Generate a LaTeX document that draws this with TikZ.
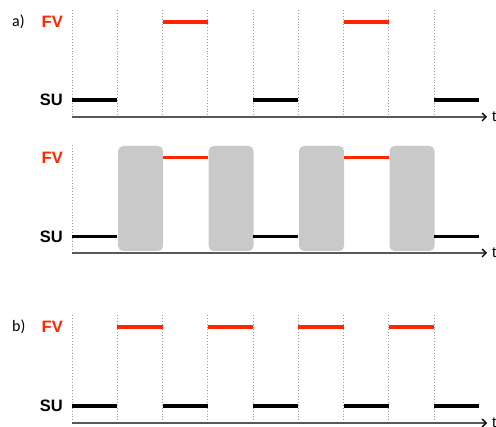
\documentclass[tikz,border=0pt]{standalone}
\usepackage{fontspec}
\setmainfont{Liberation Sans}
\newfontfamily\partfont{Carlito}
\usetikzlibrary{arrows.meta}
\definecolor{fvred}{RGB}{255,38,0}
\definecolor{boxgray}{RGB}{201,201,201}
\begin{document}
\begin{tikzpicture}[x=1pt,y=-1pt,
  lbl/.style={anchor=east,inner sep=0pt,font=\bfseries\fontsize{16.5}{16.5}\selectfont},
  part/.style={anchor=west,inner sep=0pt,font=\partfont\fontsize{16}{16}\selectfont},
  fvline/.style={-,line width=3.6pt,draw=fvred},
  suline/.style={-,line width=3.6pt,draw=black},
  gridline/.style={-,dotted,line width=0.9pt,draw=black!40},
  axis/.style={-{Straight Barb[length=4pt,width=8pt,line width=1.4pt,color=black]},line width=1.2pt,draw=black!65},
  gbox/.style={draw=none,fill=boxgray,rounded corners=5pt,minimum width=45pt,minimum height=105pt,inner sep=0pt}]
\useasboundingbox (0,0) rectangle (496,427);
% time grid of the three panels
\foreach \i in {0,...,8} {
  \coordinate (aF\i) at (72+45.25*\i,22);
  \coordinate (aS\i) at (72+45.25*\i,100);
  \coordinate (mF\i) at (72+45.25*\i,157.5);
  \coordinate (mS\i) at (72+45.25*\i,236.5);
  \coordinate (bF\i) at (72+45.25*\i,327);
  \coordinate (bS\i) at (72+45.25*\i,406);
  \coordinate (aTop\i) at (72+45.25*\i,10);
  \coordinate (aBot\i) at (72+45.25*\i,117);
  \coordinate (bTop\i) at (72+45.25*\i,315);
  \coordinate (bBot\i) at (72+45.25*\i,423);
}
\coordinate (aSe) at (479,100);
\coordinate (mSe) at (479,236.5);
\coordinate (bSe) at (479,406);
\coordinate (mTop0) at (72,145);
\coordinate (mBot0) at (72,252);
\coordinate (aAx) at (72,117);
\coordinate (aAxe) at (487,117);
\coordinate (mAx) at (72,253);
\coordinate (mAxe) at (487,253);
\coordinate (bAx) at (72,423);
\coordinate (bAxe) at (487,423);

% labels
\node[part] (aLbl) at (12,22) {a)};
\node[part] (bLbl) at (12,327) {b)};
\node[lbl,text=fvred] (aFV) at (63,22) {FV};
\node[lbl] (aSU) at (63,100) {SU};
\node[lbl,text=fvred] (mFV) at (63,157.5) {FV};
\node[lbl] (mSU) at (63,236.5) {SU};
\node[lbl,text=fvred] (bFV) at (63,327) {FV};
\node[lbl] (bSU) at (63,406) {SU};

% dotted grid
\foreach \i in {0,...,8} {
  \path (aTop\i) edge[gridline] (aBot\i)
        (bTop\i) edge[gridline] (bBot\i);
}
\path (mTop0) edge[gridline] (mBot0);

% gray blocks
\node[gbox] (g1) at (140.6,198.5) {};
\node[gbox] (g2) at (231.1,198.5) {};
\node[gbox] (g3) at (321.6,198.5) {};
\node[gbox] (g4) at (412.1,198.5) {};

% panel a
\path
    (aF2) edge[fvline] (aF3)
    (aF6) edge[fvline] (aF7)
    (aS0) edge[suline] (aS1)
    (aS4) edge[suline] (aS5)
    (aS8) edge[suline] (aSe);
% middle panel
\path
    (mF2) edge[fvline] (mF3)
    (mF6) edge[fvline] (mF7)
    (mS0) edge[suline] (mS1)
    (mS4) edge[suline] (mS5)
    (mS8) edge[suline] (mSe);
% panel b
\path
    (bF1) edge[fvline] (bF2)
    (bF3) edge[fvline] (bF4)
    (bF5) edge[fvline] (bF6)
    (bF7) edge[fvline] (bF8)
    (bS0) edge[suline] (bS1)
    (bS2) edge[suline] (bS3)
    (bS4) edge[suline] (bS5)
    (bS6) edge[suline] (bS7)
    (bS8) edge[suline] (bSe);

% time axes
\draw[axis] (aAx) -- (aAxe);
\draw[axis] (mAx) -- (mAxe);
\draw[axis] (bAx) -- (bAxe);
\node[part,font=\fontsize{15}{15}\selectfont] (aT) at (492,117) {t};
\node[part,font=\fontsize{15}{15}\selectfont] (mT) at (492,253) {t};
\node[part,font=\fontsize{15}{15}\selectfont] (bT) at (492,423) {t};
\end{tikzpicture}
\end{document}
